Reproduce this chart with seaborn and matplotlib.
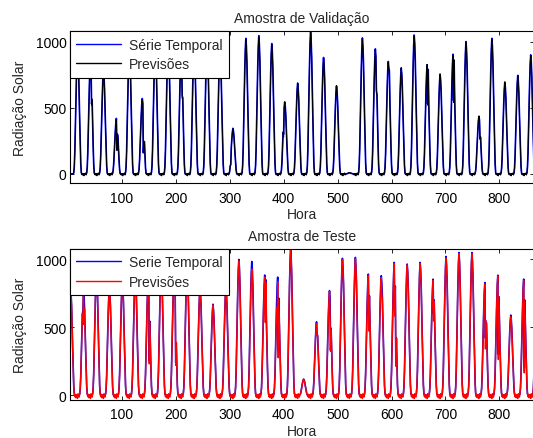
import numpy as np
import pandas as pd
import matplotlib
matplotlib.use("Agg")
import matplotlib.pyplot as plt
import seaborn as sns

# hourly radiation, 36 days per sample
n_hours = 864
hours = np.arange(1, n_hours + 1)

# typical clear-sky day around the peak hour (offsets -7..+7 h)
shape_offsets = np.arange(-7, 8)
day_shape = [0.01, 0.06, 0.18, 0.38, 0.58, 0.77, 0.92, 1.0, 0.94, 0.82, 0.64, 0.43, 0.24, 0.08, 0.01]

# validation sample: daily peaks (series / forecast)
val_first_peak = 18
val_peak = [950, 880, 790, 420, 960, 570, 980, 1000, 900, 980, 1000, 950, 345, 1025, 1045, 985, 545, 685,
            1075, 880, 665, 8, 1028, 945, 850, 800, 1050, 825, 755, 905, 1000, 435, 1025, 695, 745, 900]
val_pred_peak = [945, 872, 795, 412, 952, 562, 975, 992, 902, 972, 992, 945, 340, 1015, 1035, 978, 540, 688,
                 1068, 874, 668, 10, 1018, 938, 846, 803, 1042, 828, 752, 898, 992, 438, 1015, 692, 742, 896]
# cloudy hours: (day, hour offset from peak, value)
val_dips = [(1, 2, 530), (2, -2, 600), (3, 1, 180), (3, 2, 300), (5, 2, 160), (5, 3, 240), (8, 2, 590),
            (12, -4, 70), (16, -2, 300), (23, 2, 630), (24, 2, 780), (27, 1, 530), (27, 2, 790),
            (29, 1, 555), (29, 2, 860), (31, 2, 265)]
val_pred_dips = [(1, 2, 520), (8, 2, 570), (16, -2, 280), (23, 2, 610), (27, 1, 520), (29, 1, 540)]
val_night = [-6, 4, -10, 3, -14, 5, -4, 8, -8]

# test sample
tst_first_peak = 5
tst_peak = [800, 780, 900, 800, 850, 900, 850, 950, 900, 950, 790, 670, 800, 1000, 985, 885, 870, 1077,
            118, 540, 770, 1008, 1015, 892, 880, 978, 966, 978, 855, 1022, 1051, 1051, 830, 884, 590, 855, 900]
tst_pred_peak = [795, 776, 896, 796, 846, 896, 846, 946, 896, 945, 786, 665, 795, 990, 930, 870, 835, 1072,
                 115, 528, 762, 1000, 1005, 884, 868, 970, 960, 972, 845, 1010, 1044, 1046, 820, 878, 578, 846, 890]
tst_dips = [(1, -1, 620), (6, 2, 250), (8, 3, 240), (15, 1, 600), (15, 2, 850), (16, 1, 330), (19, 1, 445),
            (20, 2, 330), (23, 1, 600), (25, 1, 620), (25, 3, 215), (28, 1, 600), (32, 1, 420),
            (32, 2, 546), (33, 1, 300), (35, 1, 200)]
tst_pred_dips = [(1, -1, 540), (1, 1, 520), (6, 2, 230), (8, 3, 220), (15, 1, 535), (15, 2, 830),
                 (16, -1, 560), (16, 1, 275), (16, 2, 700), (19, 1, 445), (20, 1, 600), (20, 2, 323),
                 (23, 1, 472), (24, 1, 740), (25, 1, 583), (25, 3, 215), (28, 1, 546), (32, 1, 340),
                 (32, 2, 546), (33, 1, 262), (35, 1, 164)]
tst_night = [-12, 6, -20, 2, -8, -25, 10, -5, -15]


def build(peaks, first_peak, dip_lists, night=None):
    y = np.zeros(n_hours)
    for k, p in enumerate(peaks):
        c = first_peak + 24 * k
        for off, f in zip(shape_offsets, day_shape):
            h = c + off
            if 1 <= h <= n_hours:
                y[h - 1] = p * f
        if night is not None:
            for j, v in enumerate(night):
                h = c + 8 + j
                if 1 <= h <= n_hours:
                    y[h - 1] += v
    for dips in dip_lists:
        for k, off, v in dips:
            h = first_peak + 24 * k + off
            if 1 <= h <= n_hours:
                y[h - 1] = v
    return y


val_series = build(val_peak, val_first_peak, [val_dips])
val_pred = build(val_pred_peak, val_first_peak, [val_dips, val_pred_dips], val_night)
tst_series = build(tst_peak, tst_first_peak, [tst_dips])
tst_pred = build(tst_pred_peak, tst_first_peak, [tst_dips, tst_pred_dips], tst_night)

df_val = pd.DataFrame({"Hora": hours, "serie": val_series, "prev": val_pred})
df_tst = pd.DataFrame({"Hora": hours, "serie": tst_series, "prev": tst_pred})

sns.set_style("ticks")
plt.rcParams["font.family"] = ["Liberation Sans", "DejaVu Sans"]
plt.rcParams["font.size"] = 10

fig = plt.figure(figsize=(5.33, 4.39), dpi=100)
ax1 = fig.add_axes([0.1313, 0.5809, 0.8705, 0.3456])
ax2 = fig.add_axes([0.1313, 0.0872, 0.8705, 0.3433])

panels = [
    (ax1, df_val, "Série Temporal", "black", 0.75, "Amostra de Validação", (-68, 1078)),
    (ax2, df_tst, "Serie Temporal", "red", 1.0, "Amostra de Teste", (-34, 1077)),
]

for ax, df, lab, pcol, plw, title, ylim in panels:
    sns.lineplot(data=df, x="Hora", y="serie", ax=ax, color="blue", lw=1.2,
                 label=lab, estimator=None)
    sns.lineplot(data=df, x="Hora", y="prev", ax=ax, color=pcol, lw=plw,
                 label="Previsões", estimator=None)
    ax.set_xlim(4, 864)
    ax.set_ylim(*ylim)
    ax.set_xticks(range(100, 900, 100))
    ax.set_yticks([0, 500, 1000])
    ax.tick_params(direction="in", length=3, width=0.6, top=True, right=True,
                   labelsize=10, colors="black")
    ax.tick_params(axis="x", pad=5.5)
    ax.tick_params(axis="y", pad=2.5)
    for s in ax.spines.values():
        s.set_linewidth(0.8)
        s.set_color("black")
    ax.set_title(title, fontsize=10, pad=6.5)
    ax.set_xlabel("Hora", fontsize=10, labelpad=2)
    ax.set_ylabel("Radiação Solar", fontsize=10)
    ax.yaxis.set_label_coords(-0.093, 0.5)
    leg = ax.legend(loc="upper left", borderaxespad=0, fancybox=False, framealpha=1,
                    edgecolor="black", fontsize=10, handlelength=3.2, borderpad=0.45,
                    labelspacing=0.42, handletextpad=0.6)
    leg.get_frame().set_linewidth(0.8)
    for line in leg.get_lines():
        line.set_linewidth(1.0)

fig.savefig("out.png", dpi=100)
